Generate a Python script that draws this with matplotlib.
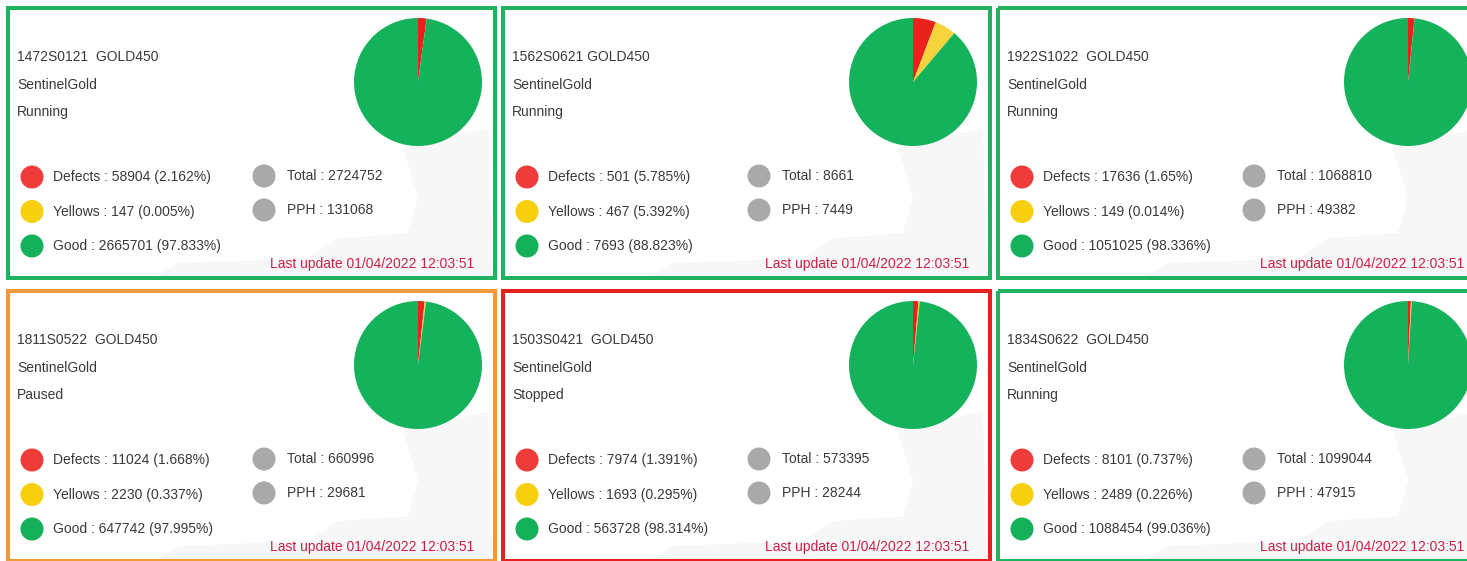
import matplotlib
matplotlib.use("Agg")
import matplotlib.pyplot as plt
from matplotlib.patches import Rectangle, Circle, Polygon

plt.rcParams['font.family'] = ['Liberation Sans', 'DejaVu Sans']

# machine cards, row by row
machine_ids = ['1472S0121  GOLD450', '1562S0621 GOLD450', '1922S1022  GOLD450',
               '1811S0522  GOLD450', '1503S0421  GOLD450', '1834S0622  GOLD450']
statuses = ['Running', 'Running', 'Running', 'Paused', 'Stopped', 'Running']
defects = [58904, 501, 17636, 11024, 7974, 8101]
defects_pct = ['2.162', '5.785', '1.65', '1.668', '1.391', '0.737']
yellows = [147, 467, 149, 2230, 1693, 2489]
yellows_pct = ['0.005', '5.392', '0.014', '0.337', '0.295', '0.226']
goods = [2665701, 7693, 1051025, 647742, 563728, 1088454]
goods_pct = ['97.833', '88.823', '98.336', '97.995', '98.314', '99.036']
totals = [2724752, 8661, 1068810, 660996, 573395, 1099044]
pph = [131068, 7449, 49382, 29681, 28244, 47915]
last_update = '01/04/2022 12:03:51'

status_colors = {'Running': '#1fb35f', 'Paused': '#f29a3a', 'Stopped': '#e5201f'}
pie_colors = ['#e8221d', '#f5d33c', '#15b25c']
dot_colors = ['#f03b3b', '#f8cf0c', '#14b05a']
grey = '#a9a9a9'
txt = '#3a3a3a'

W, H = 1467, 561
fig = plt.figure(figsize=(W / 100, H / 100), dpi=100)
ax = fig.add_axes([0, 0, 1, 1])
ax.set_xlim(0, W)
ax.set_ylim(H, 0)
ax.axis('off')

col_left = [8, 503, 998]
row_top = [8, 291]
pw, ph = 487, 270
R = 64

# faint map silhouette behind each card (relative to card corner)
shape = [(395, 140), (480, 120), (484, 268), (150, 268), (170, 255), (300, 250),
         (330, 230), (400, 225), (410, 190)]

for i in range(6):
    left = col_left[i % 3]
    top = row_top[i // 3]
    ax.add_patch(Polygon([(left + x, top + y) for x, y in shape], closed=True,
                         facecolor='#f7f7f7', edgecolor='none'))
    ax.add_patch(Rectangle((left, top), pw, ph, fill=False, lw=2.9,
                           edgecolor=status_colors[statuses[i]]))

    # header lines
    ax.text(left + 9, top + 49, machine_ids[i], fontsize=10, color=txt, va='center')
    ax.text(left + 9, top + 77, 'SentinelGold', fontsize=10, color=txt, va='center')
    ax.text(left + 9, top + 104, statuses[i], fontsize=10, color=txt, va='center')

    # legend rows
    labels = [f'Defects : {defects[i]} ({defects_pct[i]}%)',
              f'Yellows : {yellows[i]} ({yellows_pct[i]}%)',
              f'Good : {goods[i]} ({goods_pct[i]}%)']
    for k, (lab, c) in enumerate(zip(labels, dot_colors)):
        y = top + 169 + 34.5 * k
        ax.add_patch(Circle((left + 24, y), 11.5, color=c, lw=0))
        ax.text(left + 45, y, lab, fontsize=10, color=txt, va='center')
    for k, lab in enumerate([f'Total : {totals[i]}', f'PPH : {pph[i]}']):
        y = top + 168 + 34 * k
        ax.add_patch(Circle((left + 256, y), 11.5, color=grey, lw=0))
        ax.text(left + 279, y, lab, fontsize=10, color=txt, va='center')

    ax.text(left + 466, top + 256, 'Last update ' + last_update, fontsize=10,
            color='#cc1f48', ha='right', va='center')

    # pie, clockwise from 12 o'clock
    cx, cy = left + 410, top + 74
    pax = fig.add_axes([(cx - R) / W, 1 - (cy + R) / H, 2 * R / W, 2 * R / H])
    pax.pie([defects[i], yellows[i], goods[i]], colors=pie_colors,
            startangle=90, counterclock=False, radius=1,
            wedgeprops=dict(linewidth=0))
    pax.set_xlim(-1, 1)
    pax.set_ylim(-1, 1)
    pax.axis('off')

fig.savefig('out.png', dpi=100)
